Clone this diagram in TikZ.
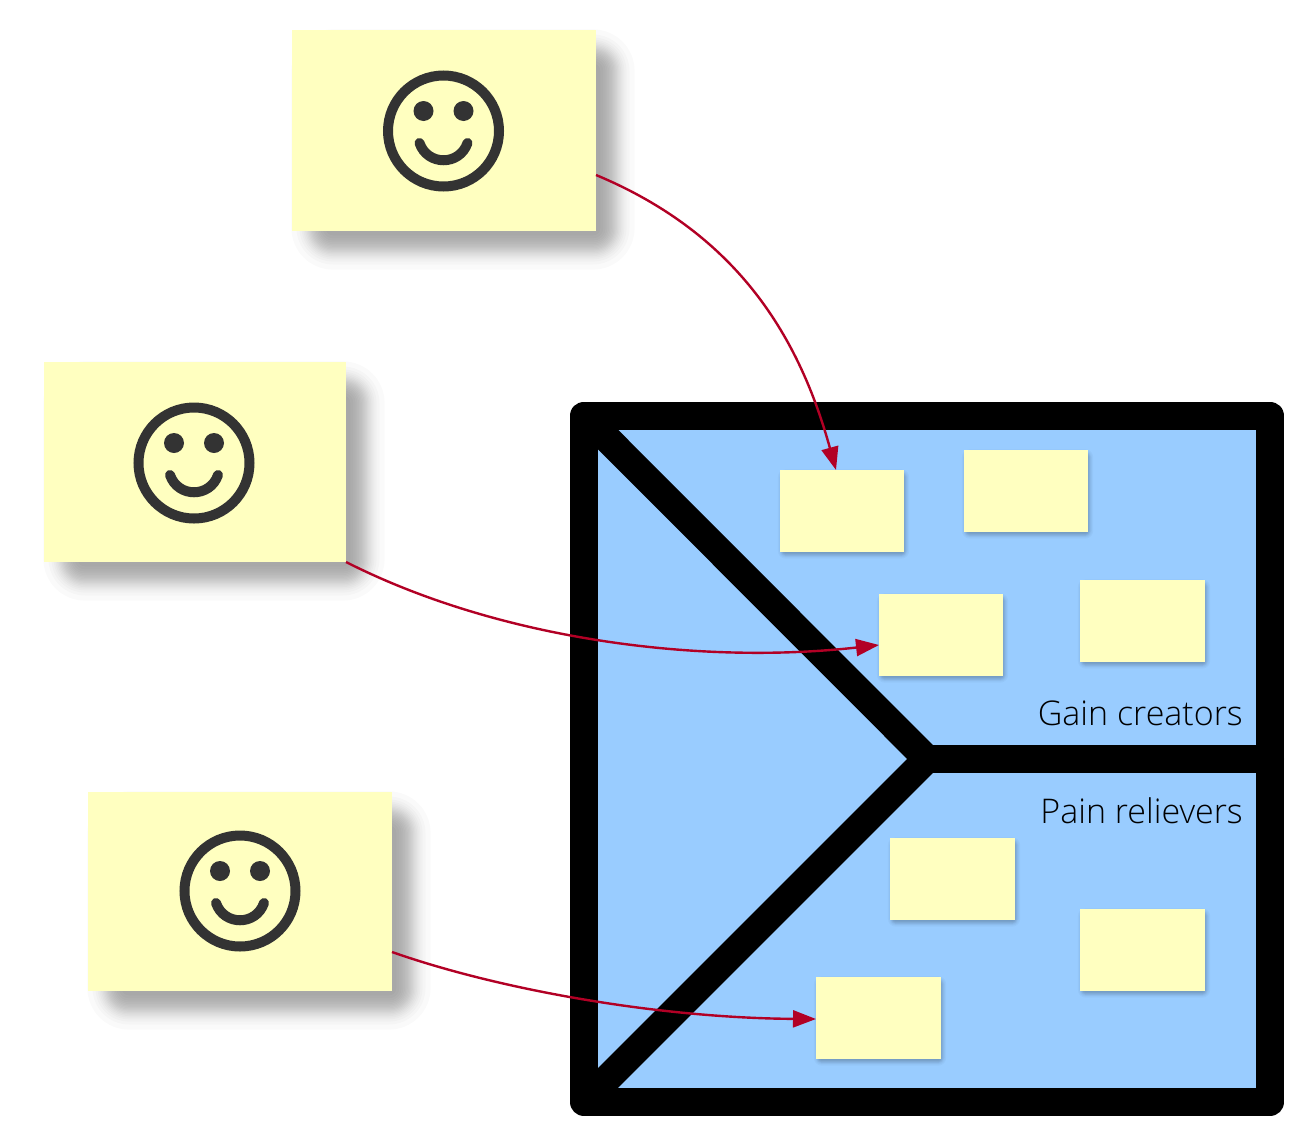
\documentclass[tikz,border=0pt]{standalone}
\usepackage{fontspec}
\newfontfamily\lightfont{Open Sans Light}
\usetikzlibrary{arrows.meta}
\definecolor{notefill}{HTML}{FFFFC0}
\definecolor{panelblue}{HTML}{99CCFF}
\definecolor{linkred}{HTML}{B20025}
\definecolor{faceink}{HTML}{333333}
\tikzset{
  x=1pt,y=-1pt,
  note/.style={fill=notefill,draw=none,inner sep=0pt,outer sep=0pt,anchor=north west},
  frameline/.style={draw=black,line width=28pt,line join=round},
  dividerline/.style={draw=black,line width=28pt,line join=miter,miter limit=10},
  link/.style={draw=linkred,line width=2.4pt,-{Triangle[length=23pt,width=17pt]}},
  paneltext/.style={font=\lightfont\fontsize{34}{37}\selectfont,text=black,anchor=base east,inner sep=0pt},
  faceline/.style={draw=faceink,line width=10pt,line cap=round},
}
% soft shadow: x1 y1 x2 y2 xoffset yoffset list-of-insets opacity-per-layer corner-base
\newcommand{\softshade}[9]{%
  \foreach \r in {#7}{%
    \pgfmathsetmacro{\rad}{\r+#9}%
    \fill[black,opacity=#8,rounded corners=\rad pt]
      ({#1+#5-\r},{#2+#6-\r}) rectangle ({#3+#5+\r},{#4+#6+\r});
  }%
}
\newcommand{\bignote}[5]{%
  \softshade{#2}{#3}{#4}{#5}{19}{19}{-19.6,-14.5,-11.6,-9.3,-7.6,-6,-4.5,-3.2,-1.9,-0.6,0.6,1.9,3.2,4.5,6,7.6,9.3,11.6,14.5,19.6}{0.02}{22}
  \node[note,minimum width={(#4-#2)*1pt},minimum height={(#5-#3)*1pt}] (#1) at (#2,#3) {};
}
\newcommand{\smallnote}[5]{%
  \softshade{#2}{#3}{#4}{#5}{1.5}{3}{-3.6,-2.3,-1.5,-0.85,-0.3,0.3,0.85,1.5,2.3,3.6}{0.027}{4}
  \node[note,minimum width={(#4-#2)*1pt},minimum height={(#5-#3)*1pt}] (#1) at (#2,#3) {};
}
\newcommand{\smiley}[2]{%
  \begin{scope}[shift={(#1,#2)}]
    \draw[faceline] (0,0) circle[radius=55.5pt];
    \fill[faceink] (-20,-20) circle[radius=10pt] (20,-20) circle[radius=10pt];
    \draw[faceline] (-24,12) .. controls (-16,35) and (16,35) .. (24,12);
  \end{scope}%
}
\begin{document}
\begin{tikzpicture}
\useasboundingbox (0,0) rectangle (1314,1146);
\fill[white] (0,0) rectangle (1314,1146);
% canvas
\draw[frameline,fill=panelblue] (584,415.5) rectangle (1270,1102);
\draw[dividerline] (584,415.5) -- (927,759) -- (584,1102);
\draw[frameline,line cap=round] (927,759) -- (1270,759);
% customer notes
\bignote{custA}{292}{30}{596}{231}
\bignote{custB}{44}{362}{346}{562}
\bignote{custC}{88}{792}{392}{991}
\smiley{443.5}{131}
\smiley{194}{463}
\smiley{240}{891}
% value notes
\smallnote{gainA}{780}{470}{904}{552}
\smallnote{gainB}{964}{450}{1088}{532}
\smallnote{gainC}{879}{594}{1003}{676}
\smallnote{gainD}{1080}{580}{1205}{662}
\smallnote{painA}{890}{838}{1015}{920}
\smallnote{painB}{1080}{909}{1205}{991}
\smallnote{painC}{816}{977}{941}{1059}
% labels
\node[paneltext] (gainlabel) at (1243,725) {Gain creators};
\node[paneltext] (painlabel) at (1243,823) {Pain relievers};
% links
\draw[link] (custA.south east |- 596,175) .. controls (740,235) and (800,340) .. (gainA.north west -| 836,467);
\draw[link] (custB.south east) .. controls (500,640) and (700,665) .. (gainC.west |- 878,645);
\draw[link] (custC.east |- 391,952) .. controls (500,990) and (660,1018) .. (painC.west |- 815,1019);
\end{tikzpicture}
\end{document}
